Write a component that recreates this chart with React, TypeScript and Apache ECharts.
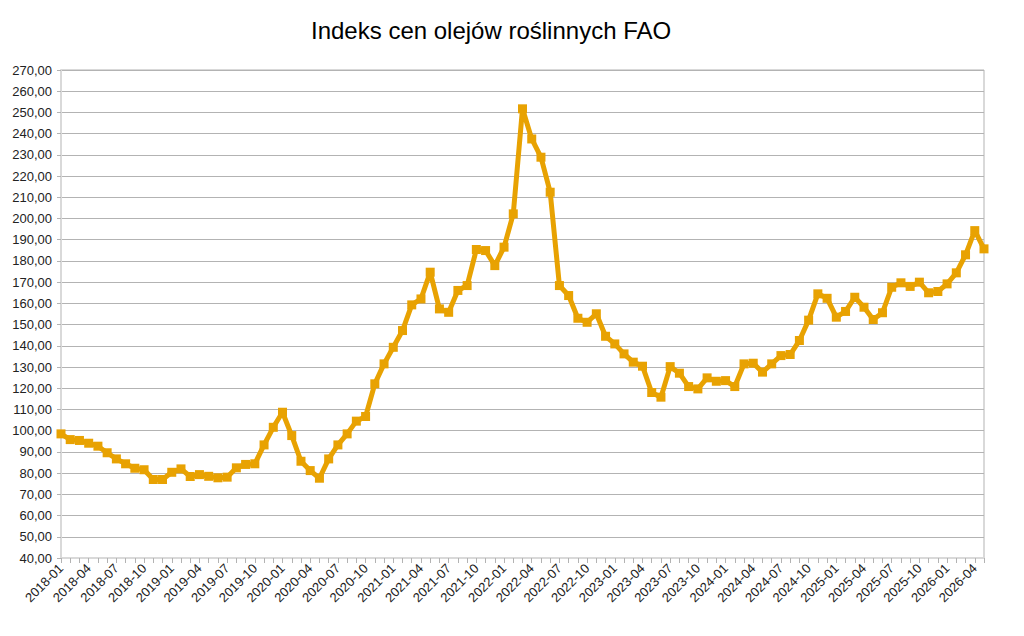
import React, { useEffect, useRef } from "react";
import * as echarts from "echarts";

const months: string[] = [];
for (let y = 2018; y <= 2026; y++) {
  for (let m = 1; m <= 12; m++) {
    if (y === 2026 && m > 5) break;
    months.push(`${y}-${m < 10 ? "0" + m : m}`);
  }
}

const indexValues: number[] = [
  98.5, 95.8, 95.4, 94.1, 92.7, 89.6, 86.7, 84.4, 82.3, 81.6, 77.0, 77.0,
  80.4, 82.0, 78.4, 79.3, 78.5, 77.8, 78.1, 82.5, 84.1, 84.4, 93.3, 101.6,
  108.7, 97.7, 85.6, 81.2, 77.6, 86.7, 93.3, 98.5, 104.5, 106.7, 122.1, 131.5,
  139.3, 147.2, 159.3, 162.1, 174.7, 157.4, 155.8, 166.1, 168.4, 185.4, 184.9, 177.8,
  186.5, 202.2, 251.7, 237.5, 228.9, 212.4, 168.4, 163.7, 153.0, 151.1, 155.1, 144.5,
  140.9, 136.2, 132.3, 130.4, 118.0, 115.8, 130.2, 127.1, 120.8, 119.7, 124.9, 123.3,
  123.6, 120.8, 131.5, 131.8, 127.6, 131.5, 135.4, 135.9, 142.5, 152.1, 164.5, 162.4,
  153.5, 156.2, 162.9, 158.2, 152.4, 155.6, 167.6, 169.7, 168.0, 170.0, 165.0, 165.6,
  169.2, 174.4, 182.9, 194.3, 185.7,
];

const titleText = "Indeks cen olejów roślinnych FAO";
const yMin = 40;
const yMax = 270;
const yStep = 10;

export default function App() {
  const ref = useRef<HTMLDivElement>(null);
  useEffect(() => {
    if (!ref.current) return;
    const chart = echarts.init(ref.current, null, { renderer: "svg" });
    chart.setOption({
      animation: false,
      backgroundColor: "#ffffff",
      textStyle: { fontFamily: "Liberation Sans, Arial, sans-serif" },
      title: {
        text: titleText,
        left: 306,
        top: 13,
        textStyle: {
          fontFamily: "Liberation Sans, Arial, sans-serif",
          fontSize: 24,
          fontWeight: "normal",
          color: "#000000",
        },
      },
      grid: {
        left: 61,
        right: 40,
        top: 70,
        bottom: 78,
        show: true,
        borderColor: "#b3b3b3",
        borderWidth: 1,
      },
      xAxis: {
        type: "category",
        data: months,
        boundaryGap: false,
        axisLine: { show: true, lineStyle: { color: "#d9d9d9", width: 2 } },
        axisTick: {
          show: true,
          interval: 0,
          length: 5,
          lineStyle: { color: "#b3b3b3" },
        },
        axisLabel: {
          interval: 2,
          rotate: 45,
          fontSize: 13,
          color: "#222222",
          margin: 8,
        },
        splitLine: { show: false },
      },
      yAxis: {
        type: "value",
        min: yMin,
        max: yMax,
        interval: yStep,
        axisLine: { show: true, lineStyle: { color: "#d9d9d9", width: 2 } },
        axisTick: { show: true, length: 4, lineStyle: { color: "#b3b3b3" } },
        axisLabel: {
          fontSize: 13,
          color: "#222222",
          margin: 9,
          formatter: (v: number) => v.toFixed(2).replace(".", ","),
        },
        splitLine: { show: true, lineStyle: { color: "#b3b3b3", width: 1 } },
      },
      series: [
        {
          type: "line",
          data: indexValues,
          symbol: "rect",
          symbolSize: 9,
          showAllSymbol: true,
          lineStyle: { color: "#e8a202", width: 5 },
          itemStyle: { color: "#e8a202" },
        },
      ],
    });
    return () => chart.dispose();
  }, []);
  return (
    <div
      ref={ref}
      style={{ position: "fixed", left: 0, top: 0, width: 1024, height: 636 }}
    />
  );
}
